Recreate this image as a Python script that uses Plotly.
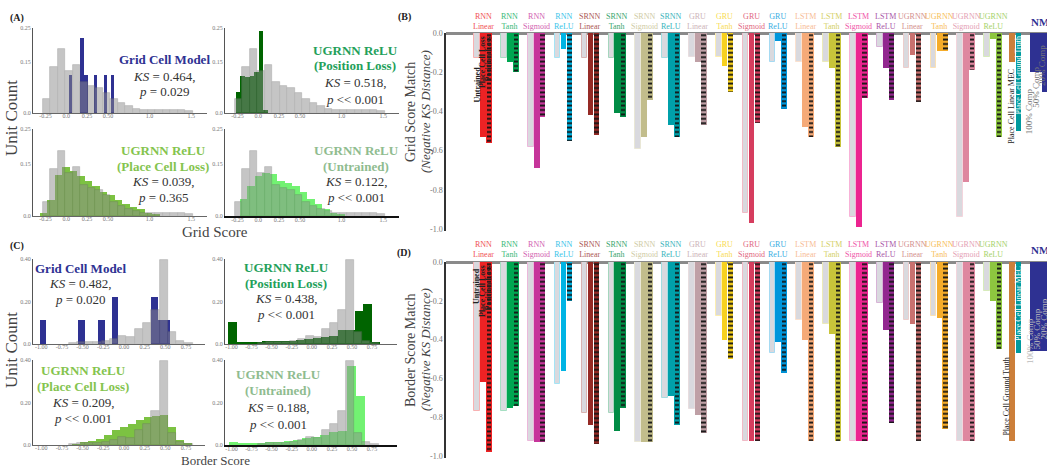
import plotly.graph_objects as go

W, H = 1047, 467
SERIF = "Liberation Serif, DejaVu Serif, serif"

# ======================= DATA =======================
# (A) Grid-score distributions (fraction of units); each histogram: bin start, bin width, heights
A_mouse_start, A_mouse_width = -0.28, 0.09
A_mouse = [0.04, 0.134, 0.188, 0.125, 0.14, 0.09, 0.08, 0.075, 0.06, 0.04, 0.03, 0.02,
           0.013, 0.01, 0.01, 0.01, 0.008, 0.008, 0.01, 0.006]
A_gcm_centers = [0.05, 0.19, 0.24, 0.35, 0.47, 0.555]
A_gcm = [0.111, 0.222, 0.111, 0.111, 0.111, 0.111]
A_pos_start, A_pos_width = -0.27, 0.055
A_pos = [0.063, 0.11, 0.107, 0.11, 0.12, 0.24, 0.01]
A_place_start, A_place_width = -0.32, 0.09
A_place = [0.01, 0.047, 0.117, 0.141, 0.13, 0.115, 0.1, 0.085, 0.07, 0.06, 0.045, 0.035,
           0.025, 0.02, 0.01, 0.005]
A_untr_start, A_untr_width = -0.22, 0.09
A_untr = [0.05, 0.085, 0.115, 0.125, 0.12, 0.1, 0.095, 0.085, 0.07, 0.05, 0.035, 0.02, 0.01, 0.005]

# (C) Border-score distributions
C_mouse_start, C_mouse_width = -0.67, 0.10
C_mouse = [0.005, 0.01, 0.01, 0.01, 0.012, 0.024, 0.04, 0.035, 0.07, 0.1, 0.16, 0.395, 0.055, 0.012, 0.005]
C_gcm_centers = [-0.98, -0.51, -0.27, -0.11, 0.37, 0.45, 0.52]
C_gcm = [0.111, 0.111, 0.111, 0.222, 0.222, 0.111, 0.111]
C_pos_start, C_pos_width = -1.04, 0.105
C_pos = [0.102, 0.01, 0.008, 0.01, 0.016, 0.012, 0.014, 0.014, 0.02, 0.022, 0.026, 0.033,
         0.04, 0.067, 0.067, 0.157, 0.186, 0.01]
C_place_start, C_place_width = -0.63, 0.097
C_place = [0.003, 0.012, 0.02, 0.03, 0.048, 0.07, 0.085, 0.1, 0.12, 0.13, 0.138, 0.14, 0.085, 0.025, 0.005]
C_untr_start, C_untr_width = -1.03, 0.113
C_untr = [0.012, 0.005, 0.005, 0.007, 0.012, 0.015, 0.02, 0.025, 0.033, 0.04, 0.045, 0.06, 0.065, 0.37, 0.23]

# Histogram panel texts: (title lines, KS, p)
A_texts = [(["Grid Cell Model"], "0.464", "= 0.029"),
           (["UGRNN ReLU", "(Position Loss)"], "0.518", "<< 0.001"),
           (["UGRNN ReLU", "(Place Cell Loss)"], "0.039", "= 0.365"),
           (["UGRNN ReLU", "(Untrained)"], "0.122", "<< 0.001")]
C_texts = [(["Grid Cell Model"], "0.482", "= 0.020"),
           (["UGRNN ReLU", "(Position Loss)"], "0.438", "<< 0.001"),
           (["UGRNN ReLU", "(Place Cell Loss)"], "0.209", "<< 0.001"),
           (["UGRNN ReLU", "(Untrained)"], "0.188", "<< 0.001")]

# (B)/(D) model comparison
architectures = ["RNN"] * 4 + ["SRNN"] * 4 + ["GRU"] * 4 + ["LSTM"] * 4 + ["UGRNN"] * 4
activations = ["Linear", "Tanh", "Sigmoid", "ReLU"] * 5
grid_untrained = [-0.13, -0.13, -0.58, -0.13, -0.13, -0.13, -0.59, -0.13, -0.12, -0.12,
                  -0.92, -0.15, -0.15, -0.15, -0.94, -0.07, -0.18, -0.18, -0.94, -0.12]
grid_place = [-0.53, -0.15, -0.69, -0.08, -0.42, -0.41, -0.53, -0.47, -0.15, -0.17,
              -0.97, -0.04, -0.48, -0.18, -0.99, -0.18, -0.11, -0.09, -0.76, -0.03]
grid_position = [-0.56, -0.20, -0.43, -0.55, -0.52, -0.43, -0.34, -0.53, -0.47, -0.30,
                 -0.46, -0.39, -0.53, -0.58, -0.33, -0.34, -0.35, -0.09, -0.19, -0.53]
grid_placecell = [-0.15, -0.50]          # Linear MEC, Ground Truth
grid_nmf = [-0.20, -0.30, -0.36]         # 100%, 50%, 20% comps

border_untrained = [-0.77, -0.77, -0.92, -0.63, -0.78, -0.78, -0.93, -0.70, -0.76, -0.28,
                    -0.92, -0.47, -0.30, -0.32, -0.92, -0.21, -0.30, -0.28, -0.92, -0.15]
border_place = [-0.62, -0.75, -0.93, -0.56, -0.84, -0.87, -0.93, -0.69, -0.79, -0.40,
                -0.92, -0.41, -0.40, -0.37, -0.92, -0.35, -0.32, -0.29, -0.92, -0.20]
border_position = [-0.98, -0.74, -0.93, -0.20, -0.94, -0.75, -0.93, -0.84, -0.88, -0.50,
                   -0.92, -0.57, -0.92, -0.92, -0.92, -0.83, -0.92, -0.86, -0.92, -0.45]
border_placecell = [-0.92, -0.47]
border_nmf = [-0.46, -0.46, -0.50]

nmf_labels = ["100% Comp", "50% Comp", "20% Comp"]

# ======================= STYLE =======================
bar_colors = ["#ed2224", "#00a651", "#c6359a", "#00b4e4", "#952a25", "#008c45", "#c2bd8c", "#00a0aa",
              "#bfa0a6", "#f7d11f", "#d63d5e", "#0096db", "#f5aa78", "#c8c43a", "#ec2490", "#92278f",
              "#c9716f", "#f5ac2a", "#de879f", "#8dc63f"]
placecell_colors = ["#cc7f3a", "#009a9e"]
NAVY = "#2e3192"
GRAY = "#8c8c8c"


def tint(c, f):
    r, g, b = int(c[1:3], 16), int(c[3:5], 16), int(c[5:7], 16)
    r, g, b = [int(v + (255 - v) * f) for v in (r, g, b)]
    return f"#{r:02x}{g:02x}{b:02x}"


fig = go.Figure()


def ax_names(i):
    return ("xaxis" if i == 1 else f"xaxis{i}", "yaxis" if i == 1 else f"yaxis{i}",
            "x" if i == 1 else f"x{i}", "y" if i == 1 else f"y{i}")


def setup_hist(i, xpx, ypx, xr, yr, xt, xtl, yt, ytl, bottom_w=1, bottom_c="#666"):
    xa, ya, _, _ = ax_names(i)
    tf = dict(size=6, color="#777", family=SERIF)
    fig.update_layout({
        xa: dict(domain=[xpx[0] / W, xpx[1] / W], anchor=ax_names(i)[3], range=xr,
                 tickvals=xt, ticktext=xtl, showgrid=False, zeroline=False, showline=True,
                 linecolor=bottom_c, linewidth=bottom_w, ticks="", tickfont=tf, fixedrange=True,
                 automargin=False, ticklabelstandoff=-3),
        ya: dict(domain=[1 - ypx[1] / H, 1 - ypx[0] / H], anchor=ax_names(i)[2], range=yr,
                 tickvals=yt, ticktext=ytl, showgrid=False, zeroline=False, showline=True,
                 linecolor="#555", linewidth=1, ticks="", tickfont=tf, fixedrange=True,
                 automargin=False),
    })


def hist(i, start, width, heights, color, opacity, line=False):
    _, _, xr, yr = ax_names(i)
    centers = [start + width * (k + 0.5) for k in range(len(heights))]
    fig.add_trace(go.Bar(x=centers, y=heights, width=width, xaxis=xr, yaxis=yr, opacity=opacity,
                         marker=dict(color=color, line=dict(color="#6a6a6a" if line else color,
                                                            width=0.7 if line else 0)),
                         showlegend=False, hoverinfo="skip"))


def spikes(i, centers, heights, width, color):
    _, _, xr, yr = ax_names(i)
    fig.add_trace(go.Bar(x=centers, y=heights, width=width, xaxis=xr, yaxis=yr,
                         marker=dict(color=color, line=dict(width=0)), showlegend=False, hoverinfo="skip"))


A_xt = [-0.25, 0.0, 0.25, 0.5, 1.0, 1.5]
A_xtl = ["-0.25", "0.0", "0.25", "0.50", "1.0", "1.5"]
A_yt = [0, 0.15, 0.25]
A_ytl = ["0.0", "0.15", "0.25"]
C_xt = [-1.0, -0.75, -0.5, -0.25, 0.0, 0.25, 0.5, 0.75]
C_xtl = ["-1.00", "-0.75", "-0.50", "-0.25", "0.00", "0.25", "0.50", "0.75"]
C_yt = [0, 0.2, 0.4]
C_ytl = ["0.0", "0.20", "0.40"]

# Panel A
setup_hist(1, (33, 207), (28, 113), [-0.40, 1.69], [0, 0.25], A_xt, A_xtl, A_yt, A_ytl)
setup_hist(2, (225, 399), (28, 113), [-0.40, 1.69], [0, 0.25], A_xt, A_xtl, A_yt, A_ytl)
setup_hist(3, (33, 207), (129, 216), [-0.40, 1.69], [0, 0.25], A_xt, A_xtl, A_yt, A_ytl)
setup_hist(4, (225, 399), (129, 216), [-0.40, 1.69], [0, 0.25], A_xt, A_xtl, A_yt, A_ytl, 2, "#111")
# Panel C
setup_hist(5, (33, 205), (259, 344), [-1.10, 0.98], [0, 0.40], C_xt, C_xtl, C_yt, C_ytl)
setup_hist(6, (225, 397), (259, 344), [-1.08, 1.06], [0, 0.40], C_xt, C_xtl, C_yt, C_ytl)
setup_hist(7, (33, 205), (360, 445), [-1.10, 0.98], [0, 0.40], C_xt, C_xtl, C_yt, C_ytl)
setup_hist(8, (225, 397), (360, 445), [-1.08, 1.06], [0, 0.40], C_xt, C_xtl, C_yt, C_ytl, 2, "#111")

C_POS, C_PLACE, C_UNTR = "#006400", "#7cc242", "#72f272"
spikes(1, A_gcm_centers, A_gcm, 0.045, NAVY)
hist(2, A_pos_start, A_pos_width, A_pos, C_POS, 1.0)
hist(3, A_place_start, A_place_width, A_place, C_PLACE, 1.0)
hist(4, A_untr_start, A_untr_width, A_untr, C_UNTR, 1.0)
for i in (1, 2, 3, 4):
    hist(i, A_mouse_start, A_mouse_width, A_mouse, GRAY, 0.5, line=True)
spikes(5, C_gcm_centers, C_gcm, 0.08, NAVY)
hist(6, C_pos_start, C_pos_width, C_pos, C_POS, 1.0)
hist(7, C_place_start, C_place_width, C_place, C_PLACE, 1.0)
hist(8, C_untr_start, C_untr_width, C_untr, C_UNTR, 1.0)
for i in (5, 6, 7, 8):
    hist(i, C_mouse_start, C_mouse_width, C_mouse, GRAY, 0.5, line=True)

annotations = []


def txt(x, y, text, size=13, color="#333", bold=False, angle=0, xanchor="center", yanchor="middle"):
    if bold:
        text = f"<b>{text}</b>"
    annotations.append(dict(x=x / W, y=1 - y / H, xref="paper", yref="paper", text=text, showarrow=False,
                            textangle=angle, xanchor=xanchor, yanchor=yanchor, borderpad=0,
                            font=dict(family=SERIF, size=size, color=color)))


title_cols = [NAVY, "#23a05a", "#84c44e", "#8fbc8f"]
# (center x, first-line y, [KS y, p y]) for each histogram panel
A_pos_txt = [(164, 60, [76, 91]), (355, 50, [82, 99]), (163, 150, [181, 197]), (356, 150, [181, 197])]
C_pos_txt = [(80, 268, [283, 299]), (286, 267, [298, 314]), (83, 370, [402, 418]), (278, 374, [407, 424])]
for texts, poss in ((A_texts, A_pos_txt), (C_texts, C_pos_txt)):
    for k, ((lines, ks, p), (cx, y0, (yks, yp))) in enumerate(zip(texts, poss)):
        for j, ln in enumerate(lines):
            txt(cx, y0 + 16 * j, ln, size=13, color=title_cols[k], bold=True)
        txt(cx, yks, f"<i>KS</i> = {ks},", size=13, color="#333")
        txt(cx, yp, f"<i>p</i> {p}", size=13, color="#333")

txt(17, 18, "(A)", size=10, color="#222", bold=True)
txt(17, 246, "(C)", size=10, color="#222", bold=True)
txt(404, 17, "(B)", size=10, color="#222", bold=True)
txt(404, 253, "(D)", size=10, color="#222", bold=True)
txt(11, 118, "Unit Count", size=17, color="#444", angle=-90)
txt(11, 350, "Unit Count", size=17, color="#444", angle=-90)
txt(215, 232, "Grid Score", size=15, color="#444")
txt(215, 460, "Border Score", size=13, color="#444")
# y-axis titles of B and D
txt(410, 112, "Grid Score Match", size=14, color="#444", angle=-90)
txt(425, 112, "<i>(Negative KS Distance)</i>", size=13, color="#444", angle=-90)
txt(410, 350, "Border Score Match", size=14, color="#444", angle=-90)
txt(425, 350, "<i>(Negative KS Distance)</i>", size=13, color="#444", angle=-90)

# ---------------- Panels B and D ----------------
n = len(architectures)
xs = list(range(n))
OFF, BW = 0.22, 0.21


def match_panel(i, ypx, ylab_px, untrained, place, position, placecell, nmf):
    xa, ya, xr, yr = ax_names(i)
    fig.update_layout({
        xa: dict(domain=[446 / W, 1.0], anchor=yr, range=[-1.38, 21.01], showgrid=False, zeroline=False,
                 showline=False, showticklabels=False, fixedrange=True, automargin=False),
        ya: dict(domain=[1 - ypx[1] / H, 1 - ypx[0] / H], anchor=xr, range=[-1.01, 0.0],
                 tickvals=[0, -0.2, -0.4, -0.6, -0.8, -1.0],
                 ticktext=["0.0", "-0.2", "-0.4", "-0.6", "-0.8", "-1.0"],
                 showgrid=False, zeroline=True, zerolinecolor="#8a8a8a", zerolinewidth=2.5,
                 showline=True, linecolor="#333", linewidth=1.5, ticks="", automargin=False,
                 tickfont=dict(size=8, color="#777", family=SERIF), fixedrange=True),
    })
    fig.add_trace(go.Bar(x=[v - OFF for v in xs], y=untrained, width=BW, xaxis=xr, yaxis=yr,
                         marker=dict(color="#d9d9de", line=dict(color=[tint(c, 0.65) for c in bar_colors], width=1)),
                         showlegend=False, hoverinfo="skip"))
    fig.add_trace(go.Bar(x=xs, y=place, width=BW, xaxis=xr, yaxis=yr,
                         marker=dict(color=bar_colors, line=dict(width=0)), showlegend=False, hoverinfo="skip"))
    pos_x = [v + OFF for v in xs]
    fig.add_trace(go.Bar(x=pos_x, y=position, width=BW, xaxis=xr, yaxis=yr,
                         marker=dict(color=bar_colors, line=dict(width=0)), showlegend=False, hoverinfo="skip"))
    # black dash overlay for the position-loss bars
    fig.add_trace(go.Bar(x=pos_x, y=position, width=BW * 0.8, xaxis=xr, yaxis=yr,
                         marker=dict(color="#141414", line=dict(width=0),
                                     pattern=dict(shape="-", bgcolor="rgba(0,0,0,0)", size=4.4,
                                                  solidity=0.42, fillmode="replace")),
                         showlegend=False, hoverinfo="skip"))
    pc_x = [n - 0.3, n - 0.05]
    fig.add_trace(go.Bar(x=pc_x, y=placecell, width=BW, xaxis=xr, yaxis=yr,
                         marker=dict(color=placecell_colors, line=dict(width=0)), showlegend=False, hoverinfo="skip"))
    nmf_x = [n + 0.6, n + 1.05, n + 1.5]
    fig.add_trace(go.Bar(x=nmf_x, y=nmf, width=0.43, xaxis=xr, yaxis=yr,
                         marker=dict(color=NAVY, line=dict(width=0)), showlegend=False, hoverinfo="skip"))
    # group labels
    for k in xs:
        annotations.append(dict(x=k, y=1 - ylab_px / H, xref=xr, yref="paper",
                                text=f"{architectures[k]}<br>{activations[k]}", showarrow=False,
                                font=dict(family=SERIF, size=8, color=tint(bar_colors[k], 0.22)),
                                xanchor="center", yanchor="middle"))
    annotations.append(dict(x=1029 / W, y=1 - (ylab_px + 1) / H, xref="paper", yref="paper", text="<b>NMF</b>",
                            showarrow=False, font=dict(family=SERIF, size=11, color=NAVY),
                            xanchor="left", yanchor="middle"))
    return xr, yr


xB, yB = match_panel(9, (33, 231), 21, grid_untrained, grid_place, grid_position, grid_placecell, grid_nmf)
xD, yD = match_panel(10, (262, 458), 249, border_untrained, border_place, border_position, border_placecell,
                     border_nmf)


def vlabel(xr, yr, x, ytop, text, color="#222", size=8):
    annotations.append(dict(x=x, y=ytop, xref=xr, yref=yr, text=text, showarrow=False, textangle=-90,
                            xanchor="center", yanchor="top", font=dict(family=SERIF, size=size, color=color)))


# Panel B labels
vlabel(xB, yB, -OFF, -0.16, "<b>Untrained</b>")
vlabel(xB, yB, 0, -0.005, "<b>Place Cell Loss</b>")
vlabel(xB, yB, OFF, -0.005, "<b>Position Loss</b>")
vlabel(xB, yB, n - 0.3, grid_placecell[0] - 0.02, "Place Cell Linear MEC")
vlabel(xB, yB, n - 0.05, -0.01, "Place Cell Ground Truth", color="white")
for j, lab in enumerate(nmf_labels):
    vlabel(xB, yB, n + 0.35 + 0.25 * j, grid_nmf[0] - 0.07 + 0.11 * j, lab, color="#777", size=9)
# Panel D labels
vlabel(xD, yD, -OFF, -0.02, "<b>Untrained</b>")
vlabel(xD, yD, 0, -0.005, "<b>Place Cell Loss</b>")
vlabel(xD, yD, OFF, -0.005, "<b>Position Loss</b>")
vlabel(xD, yD, n - 0.05, -0.01, "Place Cell Linear MEC", color="white")
vlabel(xD, yD, n - 0.5, border_placecell[1] - 0.01, "Place Cell Ground Truth")
for j, lab in enumerate(nmf_labels):
    vlabel(xD, yD, n + 0.4 + 0.25 * j, -0.28 + 0.05 * j, lab, color="#bbb", size=9)

fig.update_layout(template="none", width=W, height=H, margin=dict(l=0, r=0, t=0, b=0, autoexpand=False),
                  paper_bgcolor="white", plot_bgcolor="white", barmode="overlay", bargap=0, showlegend=False,
                  annotations=annotations, font=dict(family=SERIF))
fig.write_html("out.html", config={"displayModeBar": False},
               post_script="document.body.style.margin='0px';document.body.style.overflow='hidden';")
